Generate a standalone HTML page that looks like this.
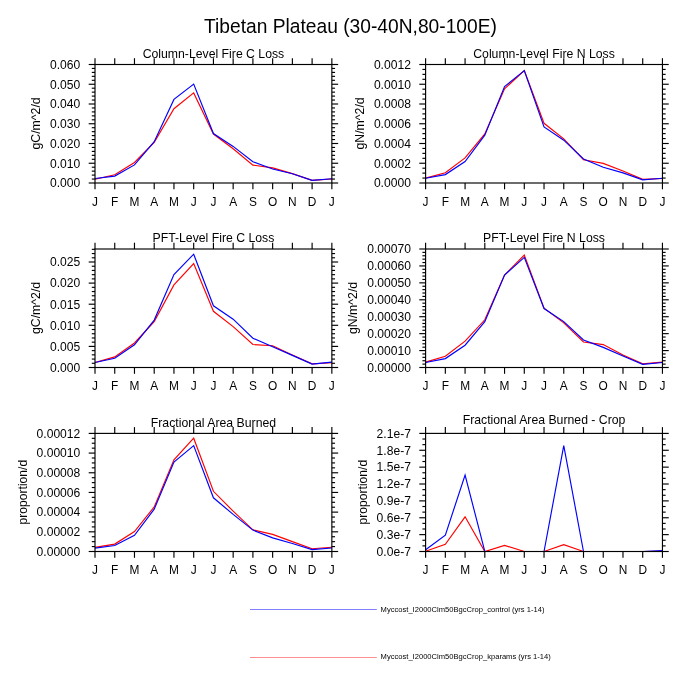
<!DOCTYPE html>
<html><head><meta charset="utf-8"><style>
html,body{margin:0;padding:0;background:#fff;}
svg{display:block;}

text{font-family:"Liberation Sans", sans-serif;fill:#000;}
</style></head><body>
<svg width="700" height="700" viewBox="0 0 700 700">
<rect width="700" height="700" fill="#fff"/>
<g fill="none" stroke-width="1.15" stroke-linejoin="miter">
<polyline points="95.00,179.20 114.74,174.80 134.47,162.50 154.21,142.30 173.95,108.70 193.69,92.90 213.43,134.00 233.16,148.80 252.90,165.10 272.64,167.90 292.38,173.60 312.11,180.30 331.85,179.00" stroke="#f00"/>
<polyline points="95.00,178.50 114.74,176.10 134.47,164.90 154.21,141.70 173.95,99.40 193.69,84.10 213.43,133.50 233.16,146.40 252.90,161.80 272.64,169.00 292.38,173.80 312.11,180.30 331.85,178.80" stroke="#00f"/>
<polyline points="425.60,178.10 445.34,172.70 465.08,157.90 484.81,133.90 504.55,88.80 524.29,70.60 544.03,123.30 563.76,138.90 583.50,159.70 603.24,163.40 622.98,171.00 642.71,179.40 662.45,178.50" stroke="#f00"/>
<polyline points="425.60,178.30 445.34,174.60 465.08,161.60 484.81,135.20 504.55,86.60 524.29,70.60 544.03,127.00 563.76,140.20 583.50,159.00 603.24,167.30 622.98,172.90 642.71,179.80 662.45,178.30" stroke="#00f"/>
<polyline points="95.00,362.50 114.74,356.90 134.47,343.00 154.21,321.60 173.95,284.90 193.69,263.50 213.43,311.30 233.16,326.60 252.90,344.50 272.64,345.80 292.38,355.00 312.11,363.80 331.85,362.80" stroke="#f00"/>
<polyline points="95.00,362.50 114.74,358.20 134.47,344.80 154.21,320.10 173.95,274.60 193.69,254.20 213.43,305.80 233.16,319.20 252.90,338.20 272.64,346.70 292.38,355.40 312.11,364.10 331.85,362.10" stroke="#00f"/>
<polyline points="425.60,362.10 445.34,356.30 465.08,341.10 484.81,319.80 504.55,275.00 524.29,255.10 544.03,308.10 563.76,322.90 583.50,342.00 603.24,344.60 622.98,355.00 642.71,363.80 662.45,362.10" stroke="#f00"/>
<polyline points="425.60,362.50 445.34,358.60 465.08,345.20 484.81,321.60 504.55,275.00 524.29,257.40 544.03,308.50 563.76,321.60 583.50,340.00 603.24,347.40 622.98,356.00 642.71,364.30 662.45,362.50" stroke="#00f"/>
<polyline points="95.00,547.40 114.74,544.10 134.47,531.60 154.21,506.90 173.95,459.90 193.69,438.20 213.43,491.30 233.16,511.20 252.90,529.80 272.64,534.40 292.38,541.60 312.11,548.70 331.85,547.20" stroke="#f00"/>
<polyline points="95.00,548.10 114.74,545.50 134.47,535.30 154.21,509.20 173.95,462.00 193.69,445.60 213.43,497.80 233.16,514.40 252.90,530.10 272.64,537.90 292.38,543.50 312.11,549.60 331.85,548.00" stroke="#00f"/>
<polyline points="425.60,551.30 445.34,544.30 465.08,516.80 484.81,551.50 504.55,545.40 524.29,551.50 544.03,551.50 563.76,544.60 583.50,551.50 603.24,551.50 622.98,551.50 642.71,551.50 662.45,551.30" stroke="#f00"/>
<polyline points="425.60,549.80 445.34,535.10 465.08,475.00 484.81,551.50 504.55,551.50 524.29,551.50 544.03,551.50 563.76,445.60 583.50,551.50 603.24,551.50 622.98,551.50 642.71,551.50 662.45,550.50" stroke="#00f"/>
</g>
<g stroke="#000" stroke-width="1.15" fill="none">
<rect x="95.0" y="64.5" width="236.85" height="118.50"/>
<line x1="95.00" y1="183.00" x2="95.00" y2="189.30"/>
<line x1="95.00" y1="64.50" x2="95.00" y2="58.20"/>
<line x1="114.74" y1="183.00" x2="114.74" y2="189.30"/>
<line x1="114.74" y1="64.50" x2="114.74" y2="58.20"/>
<line x1="134.47" y1="183.00" x2="134.47" y2="189.30"/>
<line x1="134.47" y1="64.50" x2="134.47" y2="58.20"/>
<line x1="154.21" y1="183.00" x2="154.21" y2="189.30"/>
<line x1="154.21" y1="64.50" x2="154.21" y2="58.20"/>
<line x1="173.95" y1="183.00" x2="173.95" y2="189.30"/>
<line x1="173.95" y1="64.50" x2="173.95" y2="58.20"/>
<line x1="193.69" y1="183.00" x2="193.69" y2="189.30"/>
<line x1="193.69" y1="64.50" x2="193.69" y2="58.20"/>
<line x1="213.43" y1="183.00" x2="213.43" y2="189.30"/>
<line x1="213.43" y1="64.50" x2="213.43" y2="58.20"/>
<line x1="233.16" y1="183.00" x2="233.16" y2="189.30"/>
<line x1="233.16" y1="64.50" x2="233.16" y2="58.20"/>
<line x1="252.90" y1="183.00" x2="252.90" y2="189.30"/>
<line x1="252.90" y1="64.50" x2="252.90" y2="58.20"/>
<line x1="272.64" y1="183.00" x2="272.64" y2="189.30"/>
<line x1="272.64" y1="64.50" x2="272.64" y2="58.20"/>
<line x1="292.38" y1="183.00" x2="292.38" y2="189.30"/>
<line x1="292.38" y1="64.50" x2="292.38" y2="58.20"/>
<line x1="312.11" y1="183.00" x2="312.11" y2="189.30"/>
<line x1="312.11" y1="64.50" x2="312.11" y2="58.20"/>
<line x1="331.85" y1="183.00" x2="331.85" y2="189.30"/>
<line x1="331.85" y1="64.50" x2="331.85" y2="58.20"/>
<line x1="88.70" y1="183.00" x2="95.00" y2="183.00"/>
<line x1="331.85" y1="183.00" x2="338.15" y2="183.00"/>
<line x1="91.80" y1="179.05" x2="95.00" y2="179.05"/>
<line x1="331.85" y1="179.05" x2="335.05" y2="179.05"/>
<line x1="91.80" y1="175.10" x2="95.00" y2="175.10"/>
<line x1="331.85" y1="175.10" x2="335.05" y2="175.10"/>
<line x1="91.80" y1="171.15" x2="95.00" y2="171.15"/>
<line x1="331.85" y1="171.15" x2="335.05" y2="171.15"/>
<line x1="91.80" y1="167.20" x2="95.00" y2="167.20"/>
<line x1="331.85" y1="167.20" x2="335.05" y2="167.20"/>
<line x1="88.70" y1="163.25" x2="95.00" y2="163.25"/>
<line x1="331.85" y1="163.25" x2="338.15" y2="163.25"/>
<line x1="91.80" y1="159.30" x2="95.00" y2="159.30"/>
<line x1="331.85" y1="159.30" x2="335.05" y2="159.30"/>
<line x1="91.80" y1="155.35" x2="95.00" y2="155.35"/>
<line x1="331.85" y1="155.35" x2="335.05" y2="155.35"/>
<line x1="91.80" y1="151.40" x2="95.00" y2="151.40"/>
<line x1="331.85" y1="151.40" x2="335.05" y2="151.40"/>
<line x1="91.80" y1="147.45" x2="95.00" y2="147.45"/>
<line x1="331.85" y1="147.45" x2="335.05" y2="147.45"/>
<line x1="88.70" y1="143.50" x2="95.00" y2="143.50"/>
<line x1="331.85" y1="143.50" x2="338.15" y2="143.50"/>
<line x1="91.80" y1="139.55" x2="95.00" y2="139.55"/>
<line x1="331.85" y1="139.55" x2="335.05" y2="139.55"/>
<line x1="91.80" y1="135.60" x2="95.00" y2="135.60"/>
<line x1="331.85" y1="135.60" x2="335.05" y2="135.60"/>
<line x1="91.80" y1="131.65" x2="95.00" y2="131.65"/>
<line x1="331.85" y1="131.65" x2="335.05" y2="131.65"/>
<line x1="91.80" y1="127.70" x2="95.00" y2="127.70"/>
<line x1="331.85" y1="127.70" x2="335.05" y2="127.70"/>
<line x1="88.70" y1="123.75" x2="95.00" y2="123.75"/>
<line x1="331.85" y1="123.75" x2="338.15" y2="123.75"/>
<line x1="91.80" y1="119.80" x2="95.00" y2="119.80"/>
<line x1="331.85" y1="119.80" x2="335.05" y2="119.80"/>
<line x1="91.80" y1="115.85" x2="95.00" y2="115.85"/>
<line x1="331.85" y1="115.85" x2="335.05" y2="115.85"/>
<line x1="91.80" y1="111.90" x2="95.00" y2="111.90"/>
<line x1="331.85" y1="111.90" x2="335.05" y2="111.90"/>
<line x1="91.80" y1="107.95" x2="95.00" y2="107.95"/>
<line x1="331.85" y1="107.95" x2="335.05" y2="107.95"/>
<line x1="88.70" y1="104.00" x2="95.00" y2="104.00"/>
<line x1="331.85" y1="104.00" x2="338.15" y2="104.00"/>
<line x1="91.80" y1="100.05" x2="95.00" y2="100.05"/>
<line x1="331.85" y1="100.05" x2="335.05" y2="100.05"/>
<line x1="91.80" y1="96.10" x2="95.00" y2="96.10"/>
<line x1="331.85" y1="96.10" x2="335.05" y2="96.10"/>
<line x1="91.80" y1="92.15" x2="95.00" y2="92.15"/>
<line x1="331.85" y1="92.15" x2="335.05" y2="92.15"/>
<line x1="91.80" y1="88.20" x2="95.00" y2="88.20"/>
<line x1="331.85" y1="88.20" x2="335.05" y2="88.20"/>
<line x1="88.70" y1="84.25" x2="95.00" y2="84.25"/>
<line x1="331.85" y1="84.25" x2="338.15" y2="84.25"/>
<line x1="91.80" y1="80.30" x2="95.00" y2="80.30"/>
<line x1="331.85" y1="80.30" x2="335.05" y2="80.30"/>
<line x1="91.80" y1="76.35" x2="95.00" y2="76.35"/>
<line x1="331.85" y1="76.35" x2="335.05" y2="76.35"/>
<line x1="91.80" y1="72.40" x2="95.00" y2="72.40"/>
<line x1="331.85" y1="72.40" x2="335.05" y2="72.40"/>
<line x1="91.80" y1="68.45" x2="95.00" y2="68.45"/>
<line x1="331.85" y1="68.45" x2="335.05" y2="68.45"/>
<line x1="88.70" y1="64.50" x2="95.00" y2="64.50"/>
<line x1="331.85" y1="64.50" x2="338.15" y2="64.50"/>
<rect x="425.6" y="64.5" width="236.85" height="118.50"/>
<line x1="425.60" y1="183.00" x2="425.60" y2="189.30"/>
<line x1="425.60" y1="64.50" x2="425.60" y2="58.20"/>
<line x1="445.34" y1="183.00" x2="445.34" y2="189.30"/>
<line x1="445.34" y1="64.50" x2="445.34" y2="58.20"/>
<line x1="465.08" y1="183.00" x2="465.08" y2="189.30"/>
<line x1="465.08" y1="64.50" x2="465.08" y2="58.20"/>
<line x1="484.81" y1="183.00" x2="484.81" y2="189.30"/>
<line x1="484.81" y1="64.50" x2="484.81" y2="58.20"/>
<line x1="504.55" y1="183.00" x2="504.55" y2="189.30"/>
<line x1="504.55" y1="64.50" x2="504.55" y2="58.20"/>
<line x1="524.29" y1="183.00" x2="524.29" y2="189.30"/>
<line x1="524.29" y1="64.50" x2="524.29" y2="58.20"/>
<line x1="544.03" y1="183.00" x2="544.03" y2="189.30"/>
<line x1="544.03" y1="64.50" x2="544.03" y2="58.20"/>
<line x1="563.76" y1="183.00" x2="563.76" y2="189.30"/>
<line x1="563.76" y1="64.50" x2="563.76" y2="58.20"/>
<line x1="583.50" y1="183.00" x2="583.50" y2="189.30"/>
<line x1="583.50" y1="64.50" x2="583.50" y2="58.20"/>
<line x1="603.24" y1="183.00" x2="603.24" y2="189.30"/>
<line x1="603.24" y1="64.50" x2="603.24" y2="58.20"/>
<line x1="622.98" y1="183.00" x2="622.98" y2="189.30"/>
<line x1="622.98" y1="64.50" x2="622.98" y2="58.20"/>
<line x1="642.71" y1="183.00" x2="642.71" y2="189.30"/>
<line x1="642.71" y1="64.50" x2="642.71" y2="58.20"/>
<line x1="662.45" y1="183.00" x2="662.45" y2="189.30"/>
<line x1="662.45" y1="64.50" x2="662.45" y2="58.20"/>
<line x1="419.30" y1="183.00" x2="425.60" y2="183.00"/>
<line x1="662.45" y1="183.00" x2="668.75" y2="183.00"/>
<line x1="422.40" y1="178.06" x2="425.60" y2="178.06"/>
<line x1="662.45" y1="178.06" x2="665.65" y2="178.06"/>
<line x1="422.40" y1="173.12" x2="425.60" y2="173.12"/>
<line x1="662.45" y1="173.12" x2="665.65" y2="173.12"/>
<line x1="422.40" y1="168.19" x2="425.60" y2="168.19"/>
<line x1="662.45" y1="168.19" x2="665.65" y2="168.19"/>
<line x1="419.30" y1="163.25" x2="425.60" y2="163.25"/>
<line x1="662.45" y1="163.25" x2="668.75" y2="163.25"/>
<line x1="422.40" y1="158.31" x2="425.60" y2="158.31"/>
<line x1="662.45" y1="158.31" x2="665.65" y2="158.31"/>
<line x1="422.40" y1="153.38" x2="425.60" y2="153.38"/>
<line x1="662.45" y1="153.38" x2="665.65" y2="153.38"/>
<line x1="422.40" y1="148.44" x2="425.60" y2="148.44"/>
<line x1="662.45" y1="148.44" x2="665.65" y2="148.44"/>
<line x1="419.30" y1="143.50" x2="425.60" y2="143.50"/>
<line x1="662.45" y1="143.50" x2="668.75" y2="143.50"/>
<line x1="422.40" y1="138.56" x2="425.60" y2="138.56"/>
<line x1="662.45" y1="138.56" x2="665.65" y2="138.56"/>
<line x1="422.40" y1="133.62" x2="425.60" y2="133.62"/>
<line x1="662.45" y1="133.62" x2="665.65" y2="133.62"/>
<line x1="422.40" y1="128.69" x2="425.60" y2="128.69"/>
<line x1="662.45" y1="128.69" x2="665.65" y2="128.69"/>
<line x1="419.30" y1="123.75" x2="425.60" y2="123.75"/>
<line x1="662.45" y1="123.75" x2="668.75" y2="123.75"/>
<line x1="422.40" y1="118.81" x2="425.60" y2="118.81"/>
<line x1="662.45" y1="118.81" x2="665.65" y2="118.81"/>
<line x1="422.40" y1="113.88" x2="425.60" y2="113.88"/>
<line x1="662.45" y1="113.88" x2="665.65" y2="113.88"/>
<line x1="422.40" y1="108.94" x2="425.60" y2="108.94"/>
<line x1="662.45" y1="108.94" x2="665.65" y2="108.94"/>
<line x1="419.30" y1="104.00" x2="425.60" y2="104.00"/>
<line x1="662.45" y1="104.00" x2="668.75" y2="104.00"/>
<line x1="422.40" y1="99.06" x2="425.60" y2="99.06"/>
<line x1="662.45" y1="99.06" x2="665.65" y2="99.06"/>
<line x1="422.40" y1="94.12" x2="425.60" y2="94.12"/>
<line x1="662.45" y1="94.12" x2="665.65" y2="94.12"/>
<line x1="422.40" y1="89.19" x2="425.60" y2="89.19"/>
<line x1="662.45" y1="89.19" x2="665.65" y2="89.19"/>
<line x1="419.30" y1="84.25" x2="425.60" y2="84.25"/>
<line x1="662.45" y1="84.25" x2="668.75" y2="84.25"/>
<line x1="422.40" y1="79.31" x2="425.60" y2="79.31"/>
<line x1="662.45" y1="79.31" x2="665.65" y2="79.31"/>
<line x1="422.40" y1="74.37" x2="425.60" y2="74.37"/>
<line x1="662.45" y1="74.37" x2="665.65" y2="74.37"/>
<line x1="422.40" y1="69.44" x2="425.60" y2="69.44"/>
<line x1="662.45" y1="69.44" x2="665.65" y2="69.44"/>
<line x1="419.30" y1="64.50" x2="425.60" y2="64.50"/>
<line x1="662.45" y1="64.50" x2="668.75" y2="64.50"/>
<rect x="95.0" y="249.0" width="236.85" height="118.50"/>
<line x1="95.00" y1="367.50" x2="95.00" y2="373.80"/>
<line x1="95.00" y1="249.00" x2="95.00" y2="242.70"/>
<line x1="114.74" y1="367.50" x2="114.74" y2="373.80"/>
<line x1="114.74" y1="249.00" x2="114.74" y2="242.70"/>
<line x1="134.47" y1="367.50" x2="134.47" y2="373.80"/>
<line x1="134.47" y1="249.00" x2="134.47" y2="242.70"/>
<line x1="154.21" y1="367.50" x2="154.21" y2="373.80"/>
<line x1="154.21" y1="249.00" x2="154.21" y2="242.70"/>
<line x1="173.95" y1="367.50" x2="173.95" y2="373.80"/>
<line x1="173.95" y1="249.00" x2="173.95" y2="242.70"/>
<line x1="193.69" y1="367.50" x2="193.69" y2="373.80"/>
<line x1="193.69" y1="249.00" x2="193.69" y2="242.70"/>
<line x1="213.43" y1="367.50" x2="213.43" y2="373.80"/>
<line x1="213.43" y1="249.00" x2="213.43" y2="242.70"/>
<line x1="233.16" y1="367.50" x2="233.16" y2="373.80"/>
<line x1="233.16" y1="249.00" x2="233.16" y2="242.70"/>
<line x1="252.90" y1="367.50" x2="252.90" y2="373.80"/>
<line x1="252.90" y1="249.00" x2="252.90" y2="242.70"/>
<line x1="272.64" y1="367.50" x2="272.64" y2="373.80"/>
<line x1="272.64" y1="249.00" x2="272.64" y2="242.70"/>
<line x1="292.38" y1="367.50" x2="292.38" y2="373.80"/>
<line x1="292.38" y1="249.00" x2="292.38" y2="242.70"/>
<line x1="312.11" y1="367.50" x2="312.11" y2="373.80"/>
<line x1="312.11" y1="249.00" x2="312.11" y2="242.70"/>
<line x1="331.85" y1="367.50" x2="331.85" y2="373.80"/>
<line x1="331.85" y1="249.00" x2="331.85" y2="242.70"/>
<line x1="88.70" y1="367.50" x2="95.00" y2="367.50"/>
<line x1="331.85" y1="367.50" x2="338.15" y2="367.50"/>
<line x1="91.80" y1="363.28" x2="95.00" y2="363.28"/>
<line x1="331.85" y1="363.28" x2="335.05" y2="363.28"/>
<line x1="91.80" y1="359.06" x2="95.00" y2="359.06"/>
<line x1="331.85" y1="359.06" x2="335.05" y2="359.06"/>
<line x1="91.80" y1="354.84" x2="95.00" y2="354.84"/>
<line x1="331.85" y1="354.84" x2="335.05" y2="354.84"/>
<line x1="91.80" y1="350.62" x2="95.00" y2="350.62"/>
<line x1="331.85" y1="350.62" x2="335.05" y2="350.62"/>
<line x1="88.70" y1="346.40" x2="95.00" y2="346.40"/>
<line x1="331.85" y1="346.40" x2="338.15" y2="346.40"/>
<line x1="91.80" y1="342.18" x2="95.00" y2="342.18"/>
<line x1="331.85" y1="342.18" x2="335.05" y2="342.18"/>
<line x1="91.80" y1="337.96" x2="95.00" y2="337.96"/>
<line x1="331.85" y1="337.96" x2="335.05" y2="337.96"/>
<line x1="91.80" y1="333.74" x2="95.00" y2="333.74"/>
<line x1="331.85" y1="333.74" x2="335.05" y2="333.74"/>
<line x1="91.80" y1="329.52" x2="95.00" y2="329.52"/>
<line x1="331.85" y1="329.52" x2="335.05" y2="329.52"/>
<line x1="88.70" y1="325.30" x2="95.00" y2="325.30"/>
<line x1="331.85" y1="325.30" x2="338.15" y2="325.30"/>
<line x1="91.80" y1="321.08" x2="95.00" y2="321.08"/>
<line x1="331.85" y1="321.08" x2="335.05" y2="321.08"/>
<line x1="91.80" y1="316.86" x2="95.00" y2="316.86"/>
<line x1="331.85" y1="316.86" x2="335.05" y2="316.86"/>
<line x1="91.80" y1="312.64" x2="95.00" y2="312.64"/>
<line x1="331.85" y1="312.64" x2="335.05" y2="312.64"/>
<line x1="91.80" y1="308.42" x2="95.00" y2="308.42"/>
<line x1="331.85" y1="308.42" x2="335.05" y2="308.42"/>
<line x1="88.70" y1="304.20" x2="95.00" y2="304.20"/>
<line x1="331.85" y1="304.20" x2="338.15" y2="304.20"/>
<line x1="91.80" y1="299.98" x2="95.00" y2="299.98"/>
<line x1="331.85" y1="299.98" x2="335.05" y2="299.98"/>
<line x1="91.80" y1="295.76" x2="95.00" y2="295.76"/>
<line x1="331.85" y1="295.76" x2="335.05" y2="295.76"/>
<line x1="91.80" y1="291.54" x2="95.00" y2="291.54"/>
<line x1="331.85" y1="291.54" x2="335.05" y2="291.54"/>
<line x1="91.80" y1="287.32" x2="95.00" y2="287.32"/>
<line x1="331.85" y1="287.32" x2="335.05" y2="287.32"/>
<line x1="88.70" y1="283.10" x2="95.00" y2="283.10"/>
<line x1="331.85" y1="283.10" x2="338.15" y2="283.10"/>
<line x1="91.80" y1="278.88" x2="95.00" y2="278.88"/>
<line x1="331.85" y1="278.88" x2="335.05" y2="278.88"/>
<line x1="91.80" y1="274.66" x2="95.00" y2="274.66"/>
<line x1="331.85" y1="274.66" x2="335.05" y2="274.66"/>
<line x1="91.80" y1="270.44" x2="95.00" y2="270.44"/>
<line x1="331.85" y1="270.44" x2="335.05" y2="270.44"/>
<line x1="91.80" y1="266.22" x2="95.00" y2="266.22"/>
<line x1="331.85" y1="266.22" x2="335.05" y2="266.22"/>
<line x1="88.70" y1="262.00" x2="95.00" y2="262.00"/>
<line x1="331.85" y1="262.00" x2="338.15" y2="262.00"/>
<line x1="91.80" y1="257.78" x2="95.00" y2="257.78"/>
<line x1="331.85" y1="257.78" x2="335.05" y2="257.78"/>
<line x1="91.80" y1="253.56" x2="95.00" y2="253.56"/>
<line x1="331.85" y1="253.56" x2="335.05" y2="253.56"/>
<line x1="91.80" y1="249.34" x2="95.00" y2="249.34"/>
<line x1="331.85" y1="249.34" x2="335.05" y2="249.34"/>
<rect x="425.6" y="249.0" width="236.85" height="118.50"/>
<line x1="425.60" y1="367.50" x2="425.60" y2="373.80"/>
<line x1="425.60" y1="249.00" x2="425.60" y2="242.70"/>
<line x1="445.34" y1="367.50" x2="445.34" y2="373.80"/>
<line x1="445.34" y1="249.00" x2="445.34" y2="242.70"/>
<line x1="465.08" y1="367.50" x2="465.08" y2="373.80"/>
<line x1="465.08" y1="249.00" x2="465.08" y2="242.70"/>
<line x1="484.81" y1="367.50" x2="484.81" y2="373.80"/>
<line x1="484.81" y1="249.00" x2="484.81" y2="242.70"/>
<line x1="504.55" y1="367.50" x2="504.55" y2="373.80"/>
<line x1="504.55" y1="249.00" x2="504.55" y2="242.70"/>
<line x1="524.29" y1="367.50" x2="524.29" y2="373.80"/>
<line x1="524.29" y1="249.00" x2="524.29" y2="242.70"/>
<line x1="544.03" y1="367.50" x2="544.03" y2="373.80"/>
<line x1="544.03" y1="249.00" x2="544.03" y2="242.70"/>
<line x1="563.76" y1="367.50" x2="563.76" y2="373.80"/>
<line x1="563.76" y1="249.00" x2="563.76" y2="242.70"/>
<line x1="583.50" y1="367.50" x2="583.50" y2="373.80"/>
<line x1="583.50" y1="249.00" x2="583.50" y2="242.70"/>
<line x1="603.24" y1="367.50" x2="603.24" y2="373.80"/>
<line x1="603.24" y1="249.00" x2="603.24" y2="242.70"/>
<line x1="622.98" y1="367.50" x2="622.98" y2="373.80"/>
<line x1="622.98" y1="249.00" x2="622.98" y2="242.70"/>
<line x1="642.71" y1="367.50" x2="642.71" y2="373.80"/>
<line x1="642.71" y1="249.00" x2="642.71" y2="242.70"/>
<line x1="662.45" y1="367.50" x2="662.45" y2="373.80"/>
<line x1="662.45" y1="249.00" x2="662.45" y2="242.70"/>
<line x1="419.30" y1="367.50" x2="425.60" y2="367.50"/>
<line x1="662.45" y1="367.50" x2="668.75" y2="367.50"/>
<line x1="422.40" y1="364.11" x2="425.60" y2="364.11"/>
<line x1="662.45" y1="364.11" x2="665.65" y2="364.11"/>
<line x1="422.40" y1="360.73" x2="425.60" y2="360.73"/>
<line x1="662.45" y1="360.73" x2="665.65" y2="360.73"/>
<line x1="422.40" y1="357.34" x2="425.60" y2="357.34"/>
<line x1="662.45" y1="357.34" x2="665.65" y2="357.34"/>
<line x1="422.40" y1="353.96" x2="425.60" y2="353.96"/>
<line x1="662.45" y1="353.96" x2="665.65" y2="353.96"/>
<line x1="419.30" y1="350.57" x2="425.60" y2="350.57"/>
<line x1="662.45" y1="350.57" x2="668.75" y2="350.57"/>
<line x1="422.40" y1="347.19" x2="425.60" y2="347.19"/>
<line x1="662.45" y1="347.19" x2="665.65" y2="347.19"/>
<line x1="422.40" y1="343.80" x2="425.60" y2="343.80"/>
<line x1="662.45" y1="343.80" x2="665.65" y2="343.80"/>
<line x1="422.40" y1="340.41" x2="425.60" y2="340.41"/>
<line x1="662.45" y1="340.41" x2="665.65" y2="340.41"/>
<line x1="422.40" y1="337.03" x2="425.60" y2="337.03"/>
<line x1="662.45" y1="337.03" x2="665.65" y2="337.03"/>
<line x1="419.30" y1="333.64" x2="425.60" y2="333.64"/>
<line x1="662.45" y1="333.64" x2="668.75" y2="333.64"/>
<line x1="422.40" y1="330.26" x2="425.60" y2="330.26"/>
<line x1="662.45" y1="330.26" x2="665.65" y2="330.26"/>
<line x1="422.40" y1="326.87" x2="425.60" y2="326.87"/>
<line x1="662.45" y1="326.87" x2="665.65" y2="326.87"/>
<line x1="422.40" y1="323.49" x2="425.60" y2="323.49"/>
<line x1="662.45" y1="323.49" x2="665.65" y2="323.49"/>
<line x1="422.40" y1="320.10" x2="425.60" y2="320.10"/>
<line x1="662.45" y1="320.10" x2="665.65" y2="320.10"/>
<line x1="419.30" y1="316.71" x2="425.60" y2="316.71"/>
<line x1="662.45" y1="316.71" x2="668.75" y2="316.71"/>
<line x1="422.40" y1="313.33" x2="425.60" y2="313.33"/>
<line x1="662.45" y1="313.33" x2="665.65" y2="313.33"/>
<line x1="422.40" y1="309.94" x2="425.60" y2="309.94"/>
<line x1="662.45" y1="309.94" x2="665.65" y2="309.94"/>
<line x1="422.40" y1="306.56" x2="425.60" y2="306.56"/>
<line x1="662.45" y1="306.56" x2="665.65" y2="306.56"/>
<line x1="422.40" y1="303.17" x2="425.60" y2="303.17"/>
<line x1="662.45" y1="303.17" x2="665.65" y2="303.17"/>
<line x1="419.30" y1="299.79" x2="425.60" y2="299.79"/>
<line x1="662.45" y1="299.79" x2="668.75" y2="299.79"/>
<line x1="422.40" y1="296.40" x2="425.60" y2="296.40"/>
<line x1="662.45" y1="296.40" x2="665.65" y2="296.40"/>
<line x1="422.40" y1="293.01" x2="425.60" y2="293.01"/>
<line x1="662.45" y1="293.01" x2="665.65" y2="293.01"/>
<line x1="422.40" y1="289.63" x2="425.60" y2="289.63"/>
<line x1="662.45" y1="289.63" x2="665.65" y2="289.63"/>
<line x1="422.40" y1="286.24" x2="425.60" y2="286.24"/>
<line x1="662.45" y1="286.24" x2="665.65" y2="286.24"/>
<line x1="419.30" y1="282.86" x2="425.60" y2="282.86"/>
<line x1="662.45" y1="282.86" x2="668.75" y2="282.86"/>
<line x1="422.40" y1="279.47" x2="425.60" y2="279.47"/>
<line x1="662.45" y1="279.47" x2="665.65" y2="279.47"/>
<line x1="422.40" y1="276.09" x2="425.60" y2="276.09"/>
<line x1="662.45" y1="276.09" x2="665.65" y2="276.09"/>
<line x1="422.40" y1="272.70" x2="425.60" y2="272.70"/>
<line x1="662.45" y1="272.70" x2="665.65" y2="272.70"/>
<line x1="422.40" y1="269.31" x2="425.60" y2="269.31"/>
<line x1="662.45" y1="269.31" x2="665.65" y2="269.31"/>
<line x1="419.30" y1="265.93" x2="425.60" y2="265.93"/>
<line x1="662.45" y1="265.93" x2="668.75" y2="265.93"/>
<line x1="422.40" y1="262.54" x2="425.60" y2="262.54"/>
<line x1="662.45" y1="262.54" x2="665.65" y2="262.54"/>
<line x1="422.40" y1="259.16" x2="425.60" y2="259.16"/>
<line x1="662.45" y1="259.16" x2="665.65" y2="259.16"/>
<line x1="422.40" y1="255.77" x2="425.60" y2="255.77"/>
<line x1="662.45" y1="255.77" x2="665.65" y2="255.77"/>
<line x1="422.40" y1="252.39" x2="425.60" y2="252.39"/>
<line x1="662.45" y1="252.39" x2="665.65" y2="252.39"/>
<line x1="419.30" y1="249.00" x2="425.60" y2="249.00"/>
<line x1="662.45" y1="249.00" x2="668.75" y2="249.00"/>
<rect x="95.0" y="433.4" width="236.85" height="118.10"/>
<line x1="95.00" y1="551.50" x2="95.00" y2="557.80"/>
<line x1="95.00" y1="433.40" x2="95.00" y2="427.10"/>
<line x1="114.74" y1="551.50" x2="114.74" y2="557.80"/>
<line x1="114.74" y1="433.40" x2="114.74" y2="427.10"/>
<line x1="134.47" y1="551.50" x2="134.47" y2="557.80"/>
<line x1="134.47" y1="433.40" x2="134.47" y2="427.10"/>
<line x1="154.21" y1="551.50" x2="154.21" y2="557.80"/>
<line x1="154.21" y1="433.40" x2="154.21" y2="427.10"/>
<line x1="173.95" y1="551.50" x2="173.95" y2="557.80"/>
<line x1="173.95" y1="433.40" x2="173.95" y2="427.10"/>
<line x1="193.69" y1="551.50" x2="193.69" y2="557.80"/>
<line x1="193.69" y1="433.40" x2="193.69" y2="427.10"/>
<line x1="213.43" y1="551.50" x2="213.43" y2="557.80"/>
<line x1="213.43" y1="433.40" x2="213.43" y2="427.10"/>
<line x1="233.16" y1="551.50" x2="233.16" y2="557.80"/>
<line x1="233.16" y1="433.40" x2="233.16" y2="427.10"/>
<line x1="252.90" y1="551.50" x2="252.90" y2="557.80"/>
<line x1="252.90" y1="433.40" x2="252.90" y2="427.10"/>
<line x1="272.64" y1="551.50" x2="272.64" y2="557.80"/>
<line x1="272.64" y1="433.40" x2="272.64" y2="427.10"/>
<line x1="292.38" y1="551.50" x2="292.38" y2="557.80"/>
<line x1="292.38" y1="433.40" x2="292.38" y2="427.10"/>
<line x1="312.11" y1="551.50" x2="312.11" y2="557.80"/>
<line x1="312.11" y1="433.40" x2="312.11" y2="427.10"/>
<line x1="331.85" y1="551.50" x2="331.85" y2="557.80"/>
<line x1="331.85" y1="433.40" x2="331.85" y2="427.10"/>
<line x1="88.70" y1="551.50" x2="95.00" y2="551.50"/>
<line x1="331.85" y1="551.50" x2="338.15" y2="551.50"/>
<line x1="91.80" y1="546.58" x2="95.00" y2="546.58"/>
<line x1="331.85" y1="546.58" x2="335.05" y2="546.58"/>
<line x1="91.80" y1="541.66" x2="95.00" y2="541.66"/>
<line x1="331.85" y1="541.66" x2="335.05" y2="541.66"/>
<line x1="91.80" y1="536.74" x2="95.00" y2="536.74"/>
<line x1="331.85" y1="536.74" x2="335.05" y2="536.74"/>
<line x1="88.70" y1="531.82" x2="95.00" y2="531.82"/>
<line x1="331.85" y1="531.82" x2="338.15" y2="531.82"/>
<line x1="91.80" y1="526.90" x2="95.00" y2="526.90"/>
<line x1="331.85" y1="526.90" x2="335.05" y2="526.90"/>
<line x1="91.80" y1="521.98" x2="95.00" y2="521.98"/>
<line x1="331.85" y1="521.98" x2="335.05" y2="521.98"/>
<line x1="91.80" y1="517.05" x2="95.00" y2="517.05"/>
<line x1="331.85" y1="517.05" x2="335.05" y2="517.05"/>
<line x1="88.70" y1="512.13" x2="95.00" y2="512.13"/>
<line x1="331.85" y1="512.13" x2="338.15" y2="512.13"/>
<line x1="91.80" y1="507.21" x2="95.00" y2="507.21"/>
<line x1="331.85" y1="507.21" x2="335.05" y2="507.21"/>
<line x1="91.80" y1="502.29" x2="95.00" y2="502.29"/>
<line x1="331.85" y1="502.29" x2="335.05" y2="502.29"/>
<line x1="91.80" y1="497.37" x2="95.00" y2="497.37"/>
<line x1="331.85" y1="497.37" x2="335.05" y2="497.37"/>
<line x1="88.70" y1="492.45" x2="95.00" y2="492.45"/>
<line x1="331.85" y1="492.45" x2="338.15" y2="492.45"/>
<line x1="91.80" y1="487.53" x2="95.00" y2="487.53"/>
<line x1="331.85" y1="487.53" x2="335.05" y2="487.53"/>
<line x1="91.80" y1="482.61" x2="95.00" y2="482.61"/>
<line x1="331.85" y1="482.61" x2="335.05" y2="482.61"/>
<line x1="91.80" y1="477.69" x2="95.00" y2="477.69"/>
<line x1="331.85" y1="477.69" x2="335.05" y2="477.69"/>
<line x1="88.70" y1="472.77" x2="95.00" y2="472.77"/>
<line x1="331.85" y1="472.77" x2="338.15" y2="472.77"/>
<line x1="91.80" y1="467.85" x2="95.00" y2="467.85"/>
<line x1="331.85" y1="467.85" x2="335.05" y2="467.85"/>
<line x1="91.80" y1="462.92" x2="95.00" y2="462.92"/>
<line x1="331.85" y1="462.92" x2="335.05" y2="462.92"/>
<line x1="91.80" y1="458.00" x2="95.00" y2="458.00"/>
<line x1="331.85" y1="458.00" x2="335.05" y2="458.00"/>
<line x1="88.70" y1="453.08" x2="95.00" y2="453.08"/>
<line x1="331.85" y1="453.08" x2="338.15" y2="453.08"/>
<line x1="91.80" y1="448.16" x2="95.00" y2="448.16"/>
<line x1="331.85" y1="448.16" x2="335.05" y2="448.16"/>
<line x1="91.80" y1="443.24" x2="95.00" y2="443.24"/>
<line x1="331.85" y1="443.24" x2="335.05" y2="443.24"/>
<line x1="91.80" y1="438.32" x2="95.00" y2="438.32"/>
<line x1="331.85" y1="438.32" x2="335.05" y2="438.32"/>
<line x1="88.70" y1="433.40" x2="95.00" y2="433.40"/>
<line x1="331.85" y1="433.40" x2="338.15" y2="433.40"/>
<rect x="425.6" y="433.4" width="236.85" height="118.10"/>
<line x1="425.60" y1="551.50" x2="425.60" y2="557.80"/>
<line x1="425.60" y1="433.40" x2="425.60" y2="427.10"/>
<line x1="445.34" y1="551.50" x2="445.34" y2="557.80"/>
<line x1="445.34" y1="433.40" x2="445.34" y2="427.10"/>
<line x1="465.08" y1="551.50" x2="465.08" y2="557.80"/>
<line x1="465.08" y1="433.40" x2="465.08" y2="427.10"/>
<line x1="484.81" y1="551.50" x2="484.81" y2="557.80"/>
<line x1="484.81" y1="433.40" x2="484.81" y2="427.10"/>
<line x1="504.55" y1="551.50" x2="504.55" y2="557.80"/>
<line x1="504.55" y1="433.40" x2="504.55" y2="427.10"/>
<line x1="524.29" y1="551.50" x2="524.29" y2="557.80"/>
<line x1="524.29" y1="433.40" x2="524.29" y2="427.10"/>
<line x1="544.03" y1="551.50" x2="544.03" y2="557.80"/>
<line x1="544.03" y1="433.40" x2="544.03" y2="427.10"/>
<line x1="563.76" y1="551.50" x2="563.76" y2="557.80"/>
<line x1="563.76" y1="433.40" x2="563.76" y2="427.10"/>
<line x1="583.50" y1="551.50" x2="583.50" y2="557.80"/>
<line x1="583.50" y1="433.40" x2="583.50" y2="427.10"/>
<line x1="603.24" y1="551.50" x2="603.24" y2="557.80"/>
<line x1="603.24" y1="433.40" x2="603.24" y2="427.10"/>
<line x1="622.98" y1="551.50" x2="622.98" y2="557.80"/>
<line x1="622.98" y1="433.40" x2="622.98" y2="427.10"/>
<line x1="642.71" y1="551.50" x2="642.71" y2="557.80"/>
<line x1="642.71" y1="433.40" x2="642.71" y2="427.10"/>
<line x1="662.45" y1="551.50" x2="662.45" y2="557.80"/>
<line x1="662.45" y1="433.40" x2="662.45" y2="427.10"/>
<line x1="419.30" y1="551.50" x2="425.60" y2="551.50"/>
<line x1="662.45" y1="551.50" x2="668.75" y2="551.50"/>
<line x1="422.40" y1="545.88" x2="425.60" y2="545.88"/>
<line x1="662.45" y1="545.88" x2="665.65" y2="545.88"/>
<line x1="422.40" y1="540.25" x2="425.60" y2="540.25"/>
<line x1="662.45" y1="540.25" x2="665.65" y2="540.25"/>
<line x1="419.30" y1="534.63" x2="425.60" y2="534.63"/>
<line x1="662.45" y1="534.63" x2="668.75" y2="534.63"/>
<line x1="422.40" y1="529.00" x2="425.60" y2="529.00"/>
<line x1="662.45" y1="529.00" x2="665.65" y2="529.00"/>
<line x1="422.40" y1="523.38" x2="425.60" y2="523.38"/>
<line x1="662.45" y1="523.38" x2="665.65" y2="523.38"/>
<line x1="419.30" y1="517.76" x2="425.60" y2="517.76"/>
<line x1="662.45" y1="517.76" x2="668.75" y2="517.76"/>
<line x1="422.40" y1="512.13" x2="425.60" y2="512.13"/>
<line x1="662.45" y1="512.13" x2="665.65" y2="512.13"/>
<line x1="422.40" y1="506.51" x2="425.60" y2="506.51"/>
<line x1="662.45" y1="506.51" x2="665.65" y2="506.51"/>
<line x1="419.30" y1="500.89" x2="425.60" y2="500.89"/>
<line x1="662.45" y1="500.89" x2="668.75" y2="500.89"/>
<line x1="422.40" y1="495.26" x2="425.60" y2="495.26"/>
<line x1="662.45" y1="495.26" x2="665.65" y2="495.26"/>
<line x1="422.40" y1="489.64" x2="425.60" y2="489.64"/>
<line x1="662.45" y1="489.64" x2="665.65" y2="489.64"/>
<line x1="419.30" y1="484.01" x2="425.60" y2="484.01"/>
<line x1="662.45" y1="484.01" x2="668.75" y2="484.01"/>
<line x1="422.40" y1="478.39" x2="425.60" y2="478.39"/>
<line x1="662.45" y1="478.39" x2="665.65" y2="478.39"/>
<line x1="422.40" y1="472.77" x2="425.60" y2="472.77"/>
<line x1="662.45" y1="472.77" x2="665.65" y2="472.77"/>
<line x1="419.30" y1="467.14" x2="425.60" y2="467.14"/>
<line x1="662.45" y1="467.14" x2="668.75" y2="467.14"/>
<line x1="422.40" y1="461.52" x2="425.60" y2="461.52"/>
<line x1="662.45" y1="461.52" x2="665.65" y2="461.52"/>
<line x1="422.40" y1="455.90" x2="425.60" y2="455.90"/>
<line x1="662.45" y1="455.90" x2="665.65" y2="455.90"/>
<line x1="419.30" y1="450.27" x2="425.60" y2="450.27"/>
<line x1="662.45" y1="450.27" x2="668.75" y2="450.27"/>
<line x1="422.40" y1="444.65" x2="425.60" y2="444.65"/>
<line x1="662.45" y1="444.65" x2="665.65" y2="444.65"/>
<line x1="422.40" y1="439.02" x2="425.60" y2="439.02"/>
<line x1="662.45" y1="439.02" x2="665.65" y2="439.02"/>
<line x1="419.30" y1="433.40" x2="425.60" y2="433.40"/>
<line x1="662.45" y1="433.40" x2="668.75" y2="433.40"/>
</g>
<g style="opacity:0.999">
<text x="95.00" y="205.60" font-size="11.9" text-anchor="middle">J</text>
<text x="114.74" y="205.60" font-size="11.9" text-anchor="middle">F</text>
<text x="134.47" y="205.60" font-size="11.9" text-anchor="middle">M</text>
<text x="154.21" y="205.60" font-size="11.9" text-anchor="middle">A</text>
<text x="173.95" y="205.60" font-size="11.9" text-anchor="middle">M</text>
<text x="193.69" y="205.60" font-size="11.9" text-anchor="middle">J</text>
<text x="213.43" y="205.60" font-size="11.9" text-anchor="middle">J</text>
<text x="233.16" y="205.60" font-size="11.9" text-anchor="middle">A</text>
<text x="252.90" y="205.60" font-size="11.9" text-anchor="middle">S</text>
<text x="272.64" y="205.60" font-size="11.9" text-anchor="middle">O</text>
<text x="292.38" y="205.60" font-size="11.9" text-anchor="middle">N</text>
<text x="312.11" y="205.60" font-size="11.9" text-anchor="middle">D</text>
<text x="331.85" y="205.60" font-size="11.9" text-anchor="middle">J</text>
<text x="80.30" y="187.30" font-size="12.1" text-anchor="end">0.000</text>
<text x="80.30" y="167.55" font-size="12.1" text-anchor="end">0.010</text>
<text x="80.30" y="147.80" font-size="12.1" text-anchor="end">0.020</text>
<text x="80.30" y="128.05" font-size="12.1" text-anchor="end">0.030</text>
<text x="80.30" y="108.30" font-size="12.1" text-anchor="end">0.040</text>
<text x="80.30" y="88.55" font-size="12.1" text-anchor="end">0.050</text>
<text x="80.30" y="68.80" font-size="12.1" text-anchor="end">0.060</text>
<text x="213.43" y="57.70" font-size="12.25" text-anchor="middle">Column-Level Fire C Loss</text>
<text transform="translate(39.80,123.45) rotate(-90)" font-size="12.3" text-anchor="middle">gC/m^2/d</text>
<text x="425.60" y="205.60" font-size="11.9" text-anchor="middle">J</text>
<text x="445.34" y="205.60" font-size="11.9" text-anchor="middle">F</text>
<text x="465.08" y="205.60" font-size="11.9" text-anchor="middle">M</text>
<text x="484.81" y="205.60" font-size="11.9" text-anchor="middle">A</text>
<text x="504.55" y="205.60" font-size="11.9" text-anchor="middle">M</text>
<text x="524.29" y="205.60" font-size="11.9" text-anchor="middle">J</text>
<text x="544.03" y="205.60" font-size="11.9" text-anchor="middle">J</text>
<text x="563.76" y="205.60" font-size="11.9" text-anchor="middle">A</text>
<text x="583.50" y="205.60" font-size="11.9" text-anchor="middle">S</text>
<text x="603.24" y="205.60" font-size="11.9" text-anchor="middle">O</text>
<text x="622.98" y="205.60" font-size="11.9" text-anchor="middle">N</text>
<text x="642.71" y="205.60" font-size="11.9" text-anchor="middle">D</text>
<text x="662.45" y="205.60" font-size="11.9" text-anchor="middle">J</text>
<text x="410.90" y="187.30" font-size="12.1" text-anchor="end">0.0000</text>
<text x="410.90" y="167.55" font-size="12.1" text-anchor="end">0.0002</text>
<text x="410.90" y="147.80" font-size="12.1" text-anchor="end">0.0004</text>
<text x="410.90" y="128.05" font-size="12.1" text-anchor="end">0.0006</text>
<text x="410.90" y="108.30" font-size="12.1" text-anchor="end">0.0008</text>
<text x="410.90" y="88.55" font-size="12.1" text-anchor="end">0.0010</text>
<text x="410.90" y="68.80" font-size="12.1" text-anchor="end">0.0012</text>
<text x="544.03" y="57.70" font-size="12.25" text-anchor="middle">Column-Level Fire N Loss</text>
<text transform="translate(363.70,123.45) rotate(-90)" font-size="12.3" text-anchor="middle">gN/m^2/d</text>
<text x="95.00" y="390.10" font-size="11.9" text-anchor="middle">J</text>
<text x="114.74" y="390.10" font-size="11.9" text-anchor="middle">F</text>
<text x="134.47" y="390.10" font-size="11.9" text-anchor="middle">M</text>
<text x="154.21" y="390.10" font-size="11.9" text-anchor="middle">A</text>
<text x="173.95" y="390.10" font-size="11.9" text-anchor="middle">M</text>
<text x="193.69" y="390.10" font-size="11.9" text-anchor="middle">J</text>
<text x="213.43" y="390.10" font-size="11.9" text-anchor="middle">J</text>
<text x="233.16" y="390.10" font-size="11.9" text-anchor="middle">A</text>
<text x="252.90" y="390.10" font-size="11.9" text-anchor="middle">S</text>
<text x="272.64" y="390.10" font-size="11.9" text-anchor="middle">O</text>
<text x="292.38" y="390.10" font-size="11.9" text-anchor="middle">N</text>
<text x="312.11" y="390.10" font-size="11.9" text-anchor="middle">D</text>
<text x="331.85" y="390.10" font-size="11.9" text-anchor="middle">J</text>
<text x="80.30" y="371.80" font-size="12.1" text-anchor="end">0.000</text>
<text x="80.30" y="350.70" font-size="12.1" text-anchor="end">0.005</text>
<text x="80.30" y="329.60" font-size="12.1" text-anchor="end">0.010</text>
<text x="80.30" y="308.50" font-size="12.1" text-anchor="end">0.015</text>
<text x="80.30" y="287.40" font-size="12.1" text-anchor="end">0.020</text>
<text x="80.30" y="266.30" font-size="12.1" text-anchor="end">0.025</text>
<text x="213.43" y="242.20" font-size="12.25" text-anchor="middle">PFT-Level Fire C Loss</text>
<text transform="translate(39.80,307.95) rotate(-90)" font-size="12.3" text-anchor="middle">gC/m^2/d</text>
<text x="425.60" y="390.10" font-size="11.9" text-anchor="middle">J</text>
<text x="445.34" y="390.10" font-size="11.9" text-anchor="middle">F</text>
<text x="465.08" y="390.10" font-size="11.9" text-anchor="middle">M</text>
<text x="484.81" y="390.10" font-size="11.9" text-anchor="middle">A</text>
<text x="504.55" y="390.10" font-size="11.9" text-anchor="middle">M</text>
<text x="524.29" y="390.10" font-size="11.9" text-anchor="middle">J</text>
<text x="544.03" y="390.10" font-size="11.9" text-anchor="middle">J</text>
<text x="563.76" y="390.10" font-size="11.9" text-anchor="middle">A</text>
<text x="583.50" y="390.10" font-size="11.9" text-anchor="middle">S</text>
<text x="603.24" y="390.10" font-size="11.9" text-anchor="middle">O</text>
<text x="622.98" y="390.10" font-size="11.9" text-anchor="middle">N</text>
<text x="642.71" y="390.10" font-size="11.9" text-anchor="middle">D</text>
<text x="662.45" y="390.10" font-size="11.9" text-anchor="middle">J</text>
<text x="410.90" y="371.80" font-size="12.1" text-anchor="end">0.00000</text>
<text x="410.90" y="354.87" font-size="12.1" text-anchor="end">0.00010</text>
<text x="410.90" y="337.94" font-size="12.1" text-anchor="end">0.00020</text>
<text x="410.90" y="321.01" font-size="12.1" text-anchor="end">0.00030</text>
<text x="410.90" y="304.09" font-size="12.1" text-anchor="end">0.00040</text>
<text x="410.90" y="287.16" font-size="12.1" text-anchor="end">0.00050</text>
<text x="410.90" y="270.23" font-size="12.1" text-anchor="end">0.00060</text>
<text x="410.90" y="253.30" font-size="12.1" text-anchor="end">0.00070</text>
<text x="544.03" y="242.20" font-size="12.25" text-anchor="middle">PFT-Level Fire N Loss</text>
<text transform="translate(357.20,307.95) rotate(-90)" font-size="12.3" text-anchor="middle">gN/m^2/d</text>
<text x="95.00" y="574.10" font-size="11.9" text-anchor="middle">J</text>
<text x="114.74" y="574.10" font-size="11.9" text-anchor="middle">F</text>
<text x="134.47" y="574.10" font-size="11.9" text-anchor="middle">M</text>
<text x="154.21" y="574.10" font-size="11.9" text-anchor="middle">A</text>
<text x="173.95" y="574.10" font-size="11.9" text-anchor="middle">M</text>
<text x="193.69" y="574.10" font-size="11.9" text-anchor="middle">J</text>
<text x="213.43" y="574.10" font-size="11.9" text-anchor="middle">J</text>
<text x="233.16" y="574.10" font-size="11.9" text-anchor="middle">A</text>
<text x="252.90" y="574.10" font-size="11.9" text-anchor="middle">S</text>
<text x="272.64" y="574.10" font-size="11.9" text-anchor="middle">O</text>
<text x="292.38" y="574.10" font-size="11.9" text-anchor="middle">N</text>
<text x="312.11" y="574.10" font-size="11.9" text-anchor="middle">D</text>
<text x="331.85" y="574.10" font-size="11.9" text-anchor="middle">J</text>
<text x="80.30" y="555.80" font-size="12.1" text-anchor="end">0.00000</text>
<text x="80.30" y="536.12" font-size="12.1" text-anchor="end">0.00002</text>
<text x="80.30" y="516.43" font-size="12.1" text-anchor="end">0.00004</text>
<text x="80.30" y="496.75" font-size="12.1" text-anchor="end">0.00006</text>
<text x="80.30" y="477.07" font-size="12.1" text-anchor="end">0.00008</text>
<text x="80.30" y="457.38" font-size="12.1" text-anchor="end">0.00010</text>
<text x="80.30" y="437.70" font-size="12.1" text-anchor="end">0.00012</text>
<text x="213.43" y="426.60" font-size="12.25" text-anchor="middle">Fractional Area Burned</text>
<text transform="translate(27.30,492.15) rotate(-90)" font-size="12.1" text-anchor="middle">proportion/d</text>
<text x="425.60" y="574.10" font-size="11.9" text-anchor="middle">J</text>
<text x="445.34" y="574.10" font-size="11.9" text-anchor="middle">F</text>
<text x="465.08" y="574.10" font-size="11.9" text-anchor="middle">M</text>
<text x="484.81" y="574.10" font-size="11.9" text-anchor="middle">A</text>
<text x="504.55" y="574.10" font-size="11.9" text-anchor="middle">M</text>
<text x="524.29" y="574.10" font-size="11.9" text-anchor="middle">J</text>
<text x="544.03" y="574.10" font-size="11.9" text-anchor="middle">J</text>
<text x="563.76" y="574.10" font-size="11.9" text-anchor="middle">A</text>
<text x="583.50" y="574.10" font-size="11.9" text-anchor="middle">S</text>
<text x="603.24" y="574.10" font-size="11.9" text-anchor="middle">O</text>
<text x="622.98" y="574.10" font-size="11.9" text-anchor="middle">N</text>
<text x="642.71" y="574.10" font-size="11.9" text-anchor="middle">D</text>
<text x="662.45" y="574.10" font-size="11.9" text-anchor="middle">J</text>
<text x="410.90" y="555.80" font-size="12.1" text-anchor="end">0.0e-7</text>
<text x="410.90" y="538.93" font-size="12.1" text-anchor="end">0.3e-7</text>
<text x="410.90" y="522.06" font-size="12.1" text-anchor="end">0.6e-7</text>
<text x="410.90" y="505.19" font-size="12.1" text-anchor="end">0.9e-7</text>
<text x="410.90" y="488.31" font-size="12.1" text-anchor="end">1.2e-7</text>
<text x="410.90" y="471.44" font-size="12.1" text-anchor="end">1.5e-7</text>
<text x="410.90" y="454.57" font-size="12.1" text-anchor="end">1.8e-7</text>
<text x="410.90" y="437.70" font-size="12.1" text-anchor="end">2.1e-7</text>
<text x="544.03" y="424.00" font-size="12.25" text-anchor="middle">Fractional Area Burned - Crop</text>
<text transform="translate(367.20,492.15) rotate(-90)" font-size="12.1" text-anchor="middle">proportion/d</text>
<text transform="translate(350.45,32.9) scale(1,1.075)" font-size="19.22" text-anchor="middle">Tibetan Plateau (30-40N,80-100E)</text>
<line x1="250" y1="609.5" x2="376.8" y2="609.5" stroke="#8080ff" stroke-width="1"/>
<text x="380.6" y="611.9" font-size="7.59">Myccost_I2000Clm50BgcCrop_control (yrs 1-14)</text>
<line x1="250" y1="657.5" x2="376.8" y2="657.5" stroke="#ff8f8f" stroke-width="1"/>
<text x="380.6" y="659.4" font-size="7.59">Myccost_I2000Clm50BgcCrop_kparams (yrs 1-14)</text>
</g>
</svg>
</body></html>
